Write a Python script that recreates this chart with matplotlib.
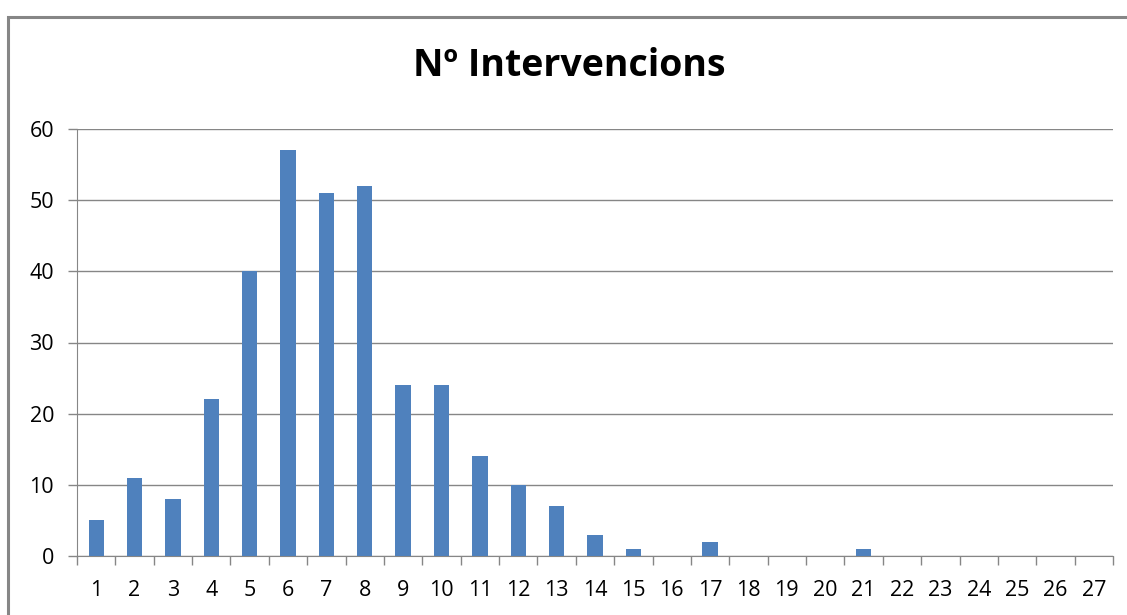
import numpy as np
import matplotlib as mpl
mpl.use('Agg')
import matplotlib.pyplot as plt
from matplotlib.patches import Rectangle

title = 'Nº Intervencions'
categories = [str(i) for i in range(1, 28)]
values = [5, 11, 8, 22, 40, 57, 51, 52, 24, 24, 14, 10, 7, 3, 1, 0, 2,
          0, 0, 0, 1, 0, 0, 0, 0, 0, 0]
yticks = [0, 10, 20, 30, 40, 50, 60]

bar_color = '#4F81BD'
grey = '#868686'
fontsize = 15.5

plt.rcParams['font.family'] = ['Open Sans', 'DejaVu Sans']

fig = plt.figure(figsize=(11.27, 6.15), dpi=100)
ax = fig.add_axes([77/1127, 1-556/615, (1113-77)/1127, (556-129)/615])

x = np.arange(1, len(categories)+1)
ax.bar(x, values, width=0.4, color=bar_color, zorder=3)

ax.set_xlim(0.5, len(categories)+0.5)
ax.set_ylim(0, 60)
ax.set_yticks(yticks)
ax.set_yticklabels([str(v) for v in yticks], fontsize=fontsize, color='black')
ax.set_xticks(x)
ax.set_xticklabels(categories, fontsize=fontsize, color='black')
ax.set_xticks(np.arange(0.5, len(categories)+1), minor=True)
ax.tick_params(axis='x', which='major', length=0, pad=17)
ax.tick_params(axis='x', which='minor', length=6.5, width=1, color=grey, direction='out')
ax.tick_params(axis='y', length=6.5, width=1, color=grey, pad=10)

ax.grid(axis='y', color=grey, lw=1, zorder=0)
for s in ['top', 'right']:
    ax.spines[s].set_visible(False)
ax.spines['left'].set_color(grey)
ax.spines['bottom'].set_color(grey)

fig.text(569/1127, 1-66/615, title, fontsize=27, fontweight='bold',
         ha='center', va='center')

frame = Rectangle((8/1127, -0.1), 1.2, 1-17/615+0.1, transform=fig.transFigure,
                  fill=False, edgecolor=grey, lw=2.2, clip_on=False)
fig.patches.append(frame)

plt.savefig('out.png', dpi=100)
